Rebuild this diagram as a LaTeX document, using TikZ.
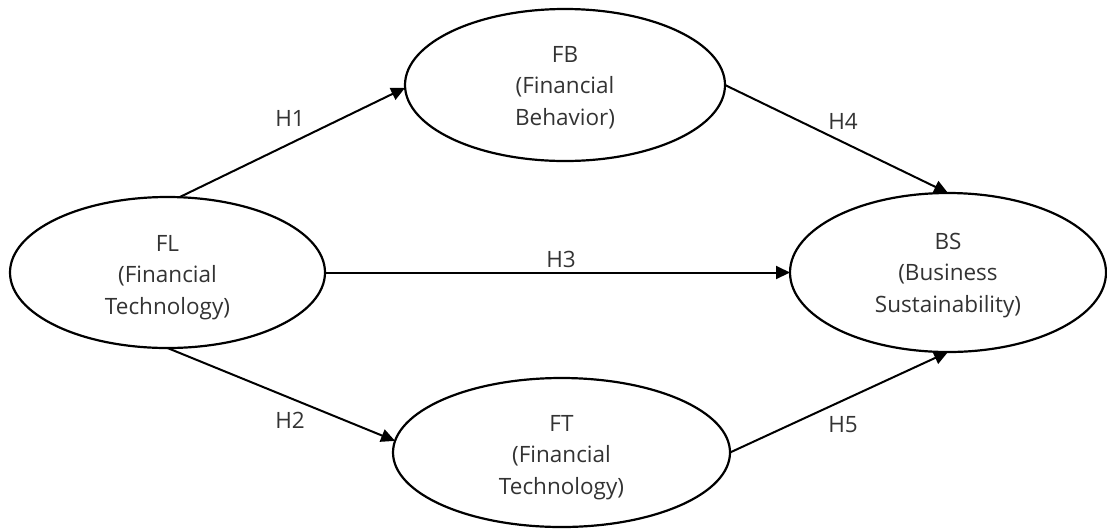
\documentclass[tikz,border=0pt]{standalone}
\usepackage{fontspec}
\setmainfont{Open Sans}
\usetikzlibrary{shapes.geometric,arrows.meta}
\begin{document}
\begin{tikzpicture}[x=1pt,y=-1pt,
  ell/.style={draw=black,line width=2.2pt,ellipse,inner sep=0pt,outer sep=0pt},
  txt/.style={align=center,inner sep=0pt,text=black!80,font=\fontsize{22.5}{31.5}\selectfont},
  hyp/.style={inner sep=0pt,text=black!80,font=\fontsize{22.5}{31.5}\selectfont},
  conn/.style={line width=2pt,-{Triangle[length=14pt,width=13pt]}}]
\useasboundingbox (0,0) rectangle (1107,531);
\node[ell,minimum width=320pt,minimum height=152pt] (FB) at (565,85) {};
\node[ell,minimum width=315pt,minimum height=151pt] (FL) at (167.5,272.5) {};
\node[ell,minimum width=316pt,minimum height=159pt] (BS) at (948,272.5) {};
\node[ell,minimum width=337pt,minimum height=149pt] (FT) at (561.5,452.5) {};
\node[txt] (FBt) at (565,87.3) {FB\\(Financial\\Behavior)};
\node[txt] (FLt) at (167.5,277.5) {FL\\(Financial\\Technology)};
\node[txt] (BSt) at (948,275.5) {BS\\(Business\\Sustainability)};
\node[txt] (FTt) at (561.5,457.5) {FT\\(Financial\\Technology)};
\draw[conn] (FL.81) -- (FB.181);
\draw[conn] (FL.south) -- (FT.176);
\draw[conn] (FL.east) -- (BS.west);
\draw[conn] (FB.east) -- (BS.north);
\draw[conn] (FT.east) -- (BS.south);
\node[hyp] (H1) at (290,118) {H1};
\node[hyp] (H2) at (290,420.5) {H2};
\node[hyp] (H3) at (561,259) {H3};
\node[hyp] (H4) at (843,121) {H4};
\node[hyp] (H5) at (843,425) {H5};
\end{tikzpicture}
\end{document}
